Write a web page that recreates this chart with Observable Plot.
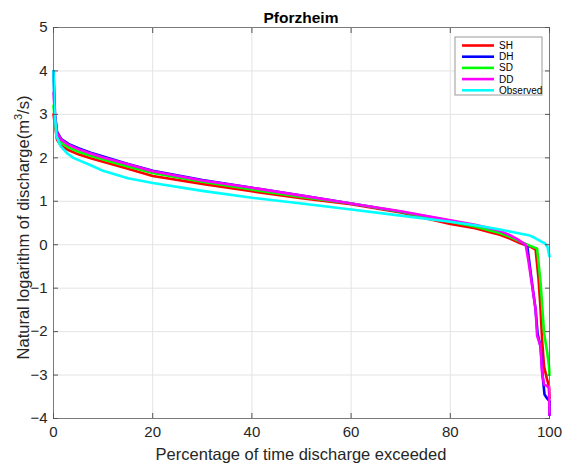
<!DOCTYPE html>
<html><head><meta charset="utf-8">
<script src="https://cdn.jsdelivr.net/npm/d3@7"></script>
<script src="https://cdn.jsdelivr.net/npm/@observablehq/plot@0.6"></script>
<style>body{margin:0;background:#fff}svg{display:block}</style>
</head><body><div id="chart"></div>
<script>
const titleText = "Pforzheim";
const xLabel = "Percentage of time discharge exceeded";
const xTicks = [0, 20, 40, 60, 80, 100];
const yTicks = [-4, -3, -2, -1, 0, 1, 2, 3, 4, 5];
const seriesNames = ["SH", "DH", "SD", "DD", "Observed"];
const seriesColors = ["#ff0000", "#0000ff", "#00ff00", "#ff00ff", "#00ffff"];

const shX = [0, 0.3, 0.7, 1.5, 3, 5, 7.5, 10, 15, 20, 30, 40, 50, 60, 70, 80, 85, 88, 90, 92, 94, 96, 97.2, 97.8, 98.2, 98.5, 98.9, 99.5, 99.9, 100];
const shY = [3.0, 2.75, 2.42, 2.28, 2.18, 2.08, 1.99, 1.91, 1.75, 1.58, 1.4, 1.23, 1.07, 0.93, 0.74, 0.48, 0.38, 0.29, 0.23, 0.14, 0.04, -0.04, -0.11, -0.8, -1.49, -2.18, -2.8, -3.1, -3.26, -3.53];

const dhX = [0, 0.3, 0.7, 1.5, 3, 5, 7.5, 10, 15, 20, 30, 40, 50, 60, 70, 80, 85, 88, 90, 92, 93.5, 95.5, 96.5, 97.2, 97.6, 98.2, 98.6, 99, 99.6, 100, 100];
const dhY = [4.0, 3.0, 2.6, 2.44, 2.32, 2.22, 2.12, 2.03, 1.86, 1.7, 1.49, 1.31, 1.13, 0.95, 0.76, 0.55, 0.44, 0.36, 0.3, 0.2, 0.11, -0.02, -0.9, -1.5, -2.05, -2.35, -3.0, -3.45, -3.55, -3.6, -3.92];

const sdX = [0, 0.3, 0.7, 1.5, 3, 5, 7.5, 10, 15, 20, 30, 40, 50, 60, 70, 80, 85, 88, 90, 92, 94, 96, 97.5, 98.2, 98.9, 99.5, 99.9, 100];
const sdY = [3.2, 2.85, 2.5, 2.35, 2.24, 2.14, 2.05, 1.96, 1.8, 1.65, 1.45, 1.27, 1.1, 0.95, 0.76, 0.53, 0.42, 0.33, 0.27, 0.18, 0.08, -0.02, -0.09, -0.88, -2.03, -2.45, -2.8, -3.0];

const ddX = [0, 0.3, 0.7, 1.5, 3, 5, 7.5, 10, 15, 20, 30, 40, 50, 60, 70, 80, 85, 88, 90, 92, 93.5, 95.2, 95.8, 96.5, 97.2, 97.5, 98.2, 98.5, 98.9, 99.5, 99.9, 100];
const ddY = [3.5, 2.95, 2.58, 2.42, 2.3, 2.2, 2.1, 2.01, 1.85, 1.69, 1.48, 1.31, 1.13, 0.95, 0.77, 0.56, 0.46, 0.38, 0.32, 0.22, 0.13, 0.0, -0.41, -0.95, -1.49, -2.1, -2.34, -2.95, -3.22, -3.25, -3.3, -3.92];

const obsX = [0, 0.2, 0.6, 1.4, 2.8, 4, 7.5, 10, 15, 20, 30, 40, 50, 60, 70, 80, 85, 88, 90, 93.5, 95.8, 97, 98.2, 99.1, 99.6, 100];
const obsY = [4.0, 3.1, 2.5, 2.27, 2.1, 2.0, 1.83, 1.7, 1.53, 1.42, 1.24, 1.08, 0.95, 0.81, 0.67, 0.53, 0.45, 0.39, 0.35, 0.27, 0.22, 0.16, 0.08, 0.03, -0.05, -0.27];

const seriesX = [shX, dhX, sdX, ddX, obsX];
const seriesY = [shY, dhY, sdY, ddY, obsY];

const W = 568, H = 469, mL = 53, mR = 19, mT = 27, mB = 51;
const font = "'Liberation Sans', Arial, Helvetica, sans-serif";
const ink = "#262626";

const lineMarks = seriesNames.map((name, s) =>
  Plot.line(seriesX[s].map((x, i) => ({x, y: seriesY[s][i]})), {
    x: "x", y: "y", stroke: seriesColors[s], strokeWidth: 2.6, strokeLinejoin: "round"
  })
);

const chart = Plot.plot({
  width: W, height: H,
  marginLeft: mL, marginRight: mR, marginTop: mT, marginBottom: mB,
  style: {fontFamily: font, fontSize: "15px", color: ink, background: "#fff", overflow: "visible"},
  x: {domain: [0, 100]},
  y: {domain: [-4, 5]},
  marks: [
    Plot.gridX(xTicks, {stroke: "#e3e3e3", strokeOpacity: 1}),
    Plot.gridY(yTicks, {stroke: "#e3e3e3", strokeOpacity: 1}),
    ...lineMarks,
    Plot.frame({stroke: "#7a7a7a"}),
    Plot.axisX(xTicks, {anchor: "bottom", tickSize: 0, tickPadding: 8, label: null, fontSize: 15, fill: ink}),
    Plot.axisY(yTicks, {anchor: "left", tickSize: 0, tickPadding: 6, label: null, fontSize: 15, fill: ink}),
    Plot.axisX(xTicks, {anchor: "bottom", tickSize: -5, tickFormat: () => "", label: null, stroke: "#555"}),
    Plot.axisX(xTicks, {anchor: "top", tickSize: -5, tickFormat: () => "", label: null, stroke: "#555"}),
    Plot.axisY(yTicks, {anchor: "left", tickSize: -5, tickFormat: () => "", label: null, stroke: "#555"}),
    Plot.axisY(yTicks, {anchor: "right", tickSize: -5, tickFormat: () => "", label: null, stroke: "#555"})
  ]
});

const svg = d3.select(chart);
// title
svg.append("text")
  .attr("x", (mL + W - mR) / 2).attr("y", 22.5)
  .attr("text-anchor", "middle").attr("font-family", font)
  .attr("font-weight", "bold").attr("font-size", 15.5).attr("fill", "#000")
  .text(titleText);
// x label
svg.append("text")
  .attr("x", (mL + W - mR) / 2).attr("y", 460)
  .attr("text-anchor", "middle").attr("font-family", font)
  .attr("font-size", 16.5).attr("fill", ink)
  .text(xLabel);
// y label with superscript
const yl = svg.append("text")
  .attr("transform", `translate(29,${(mT + H - mB) / 2 + 5}) rotate(-90)`)
  .attr("text-anchor", "middle").attr("font-family", font)
  .attr("font-size", 16.5).attr("fill", ink);
yl.append("tspan").text("Natural logarithm of discharge(m");
yl.append("tspan").attr("font-size", 11).attr("dy", -7).text("3");
yl.append("tspan").attr("dy", 7).text("/s)");

// legend
const lg = svg.append("g").attr("font-family", font).attr("font-size", 10).attr("text-anchor", "start");
const lx = W - mR - 94, ly = mT + 10;
lg.append("rect").attr("x", lx).attr("y", ly).attr("width", 87).attr("height", 58)
  .attr("fill", "#fff").attr("stroke", "#9a9a9a").attr("stroke-width", 1);
seriesNames.forEach((n, i) => {
  const yy = ly + 8.5 + i * 11.2;
  lg.append("line").attr("x1", lx + 7).attr("x2", lx + 39).attr("y1", yy).attr("y2", yy)
    .attr("stroke", seriesColors[i]).attr("stroke-width", 2.6);
  lg.append("text").attr("x", lx + 44).attr("y", yy).attr("dy", "0.35em")
    .attr("text-anchor", "start").attr("fill", "#000").text(n);
});

document.getElementById("chart").append(chart);
</script>
</body></html>
